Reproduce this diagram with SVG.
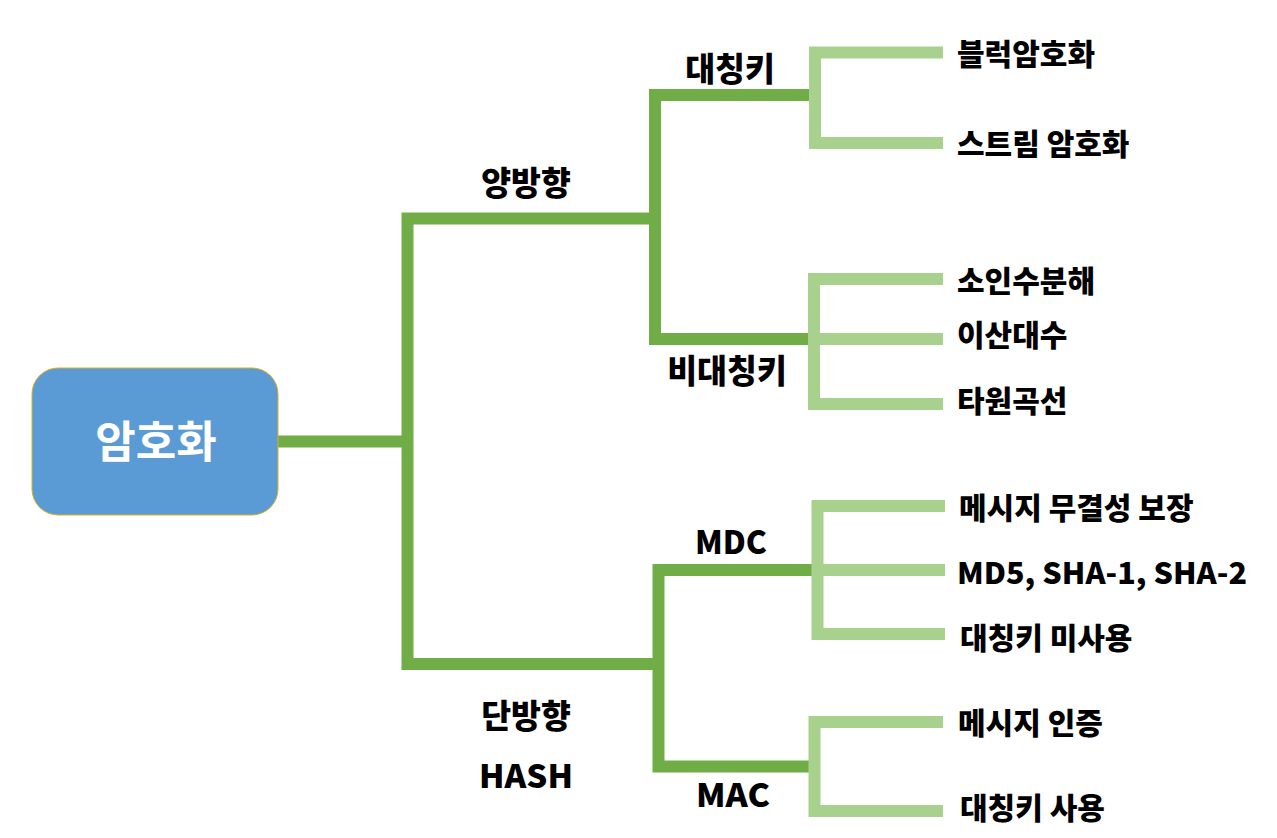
<svg xmlns="http://www.w3.org/2000/svg" width="1277" height="838" viewBox="0 0 1277 838">
  <style>
    .dk { fill: none; stroke: #70AD47; stroke-width: 12; stroke-linejoin: miter; stroke-linecap: butt; }
    .lt { fill: none; stroke: #A9D18E; stroke-width: 12; stroke-linejoin: miter; stroke-linecap: butt; }
    .t { font-family: "Noto Sans CJK KR", "Noto Sans", sans-serif; font-weight: 900; font-size: 30px; fill: #000; }
    .mid { font-size: 32.5px; }
    .lat { font-size: 32px; }
    .tc { text-anchor: middle; }
    .root { font-family: "Noto Sans CJK KR", "Noto Sans", sans-serif; font-weight: 700; font-size: 44px; fill: #fff; text-anchor: middle; }
  </style>
  <rect width="1277" height="838" fill="#fff"/>
  <g id="connectors">
    <path class="dk" d="M 278 441.5 H 408"/>
    <path class="dk" d="M 661 218.5 H 407.5 V 664 H 664"/>
    <path class="dk" d="M 810 95 H 655 V 339 H 810"/>
    <path class="dk" d="M 812 570 H 658.5 V 766.5 H 810"/>
    <path class="lt" d="M 943 52.5 H 815 V 143 H 943"/>
    <path class="lt" d="M 943 279 H 814 V 404 H 943 M 814 339 H 943"/>
    <path class="lt" d="M 945 506 H 817.5 V 634 H 945 M 817.5 570 H 945"/>
    <path class="lt" d="M 943 722 H 814.5 V 811 H 943"/>
  </g>
  <g id="root">
    <rect x="32" y="368" width="246" height="147" rx="26" ry="26" fill="#5B9BD5" stroke="#D9B21A" stroke-width="1"/>
    <text class="root" x="156" y="458">암호화</text>
  </g>
  <g id="n-yangbang"><text class="t mid tc" x="526" y="195">양방향</text></g>
  <g id="n-danbang"><text class="t mid tc" x="526" y="728">단방향</text></g>
  <g id="n-hash"><text class="t lat" x="479" y="788" textLength="94" lengthAdjust="spacingAndGlyphs">HASH</text></g>
  <g id="n-sym"><text class="t mid tc" x="730" y="81">대칭키</text></g>
  <g id="n-asym"><text class="t mid tc" x="727" y="383">비대칭키</text></g>
  <g id="n-mdc"><text class="t lat" x="695" y="554" textLength="72" lengthAdjust="spacingAndGlyphs">MDC</text></g>
  <g id="n-mac"><text class="t lat" x="696" y="807" textLength="74" lengthAdjust="spacingAndGlyphs">MAC</text></g>
  <g id="n-block"><text class="t" x="957" y="65">블럭암호화</text></g>
  <g id="n-stream"><text class="t" x="957" y="155">스트림 암호화</text></g>
  <g id="n-factor"><text class="t" x="957" y="292">소인수분해</text></g>
  <g id="n-dlog"><text class="t" x="957" y="346">이산대수</text></g>
  <g id="n-ecc"><text class="t" x="957" y="412">타원곡선</text></g>
  <g id="n-integrity"><text class="t" x="959" y="519">메시지 무결성 보장</text></g>
  <g id="n-md5"><text class="t" x="957" y="584" textLength="290" lengthAdjust="spacingAndGlyphs">MD5, SHA-1, SHA-2</text></g>
  <g id="n-nosym"><text class="t" x="960" y="649">대칭키 미사용</text></g>
  <g id="n-auth"><text class="t" x="958" y="734">메시지 인증</text></g>
  <g id="n-usesym"><text class="t" x="960" y="819">대칭키 사용</text></g>
</svg>
